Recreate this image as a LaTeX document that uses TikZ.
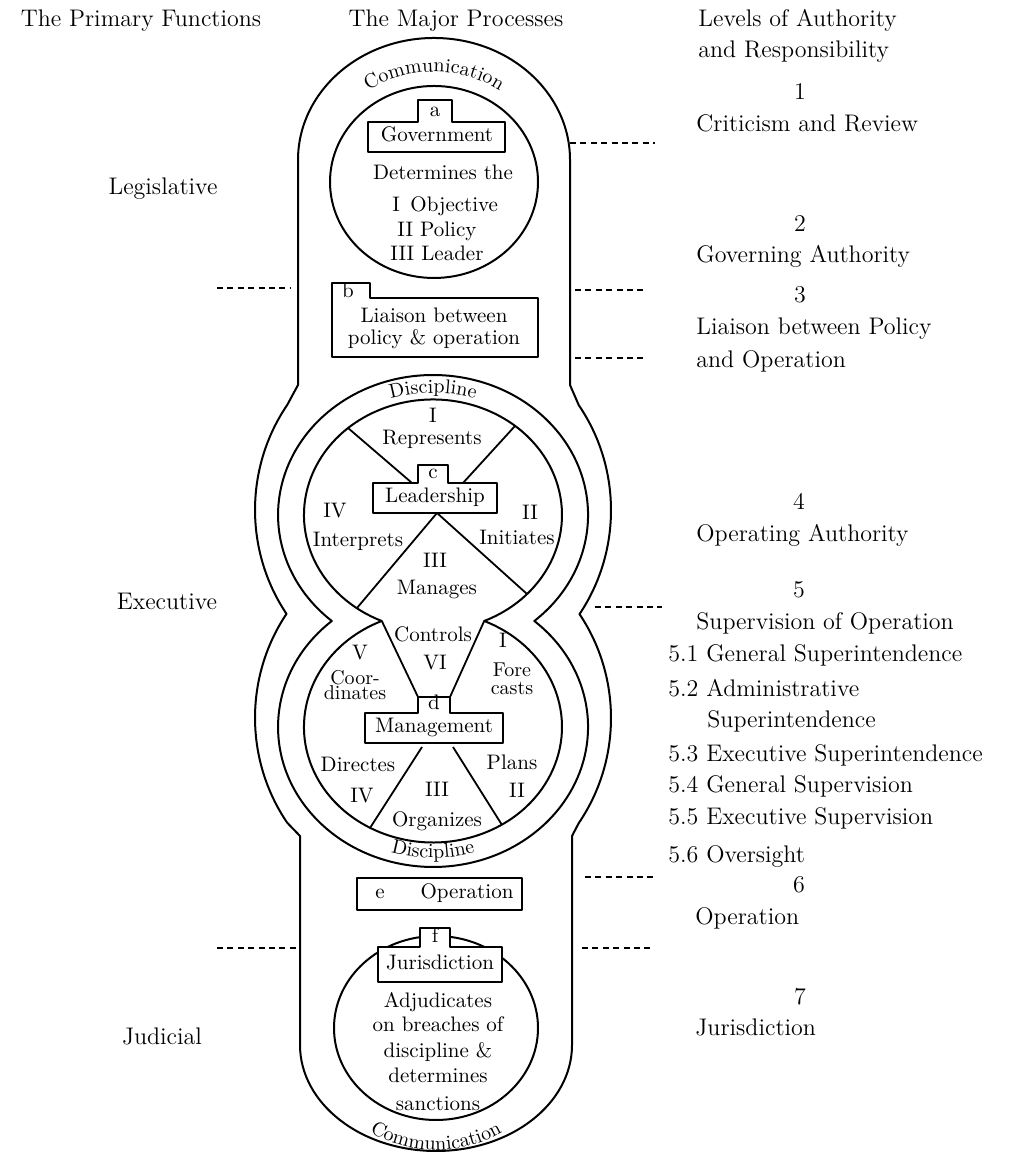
\documentclass[tikz,border=0pt]{standalone}
\usepackage{tikz}
\usetikzlibrary{decorations.text}

\begin{document}
\begin{tikzpicture}[x=0.5pt,y=0.5pt,
  figline/.style={line width=1pt,line join=round},
  spoke/.style={line width=0.9pt},
  levelline/.style={line width=0.8pt,dash pattern=on 3pt off 2.2pt},
  sidetext/.style={font=\fontsize{12}{14}\selectfont,inner sep=0pt,
    text height=1.6ex,text depth=0.45ex},
  intext/.style={font=\fontsize{10.5}{12}\selectfont,inner sep=0pt,
    text height=1.6ex,text depth=0.45ex},
  smalltext/.style={font=\fontsize{10}{11}\selectfont,inner sep=0pt,anchor=base},
  bent/.style={decorate,decoration={text along path,text align=center,
    text={|\fontsize{10}{12}\selectfont|#1}}}]
  \useasboundingbox (0,0) rectangle (1015,1154);
  % centres of the circles
  \coordinate (G) at (434,972);
  \coordinate (L) at (433,639);
  \coordinate (M) at (433,427);
  \coordinate (J) at (436,126);

  % column heads
  \node[sidetext] (primary) at (141,1132) {The Primary Functions};
  \node[sidetext] (major) at (456,1132) {The Major Processes};
  \node[sidetext,anchor=west] (levels) at (698,1132) {Levels of Authority};
  \node[sidetext,anchor=west] (levelsb) at (698,1101) {and Responsibility};

  % outer band
  \draw[figline] (570,994) arc[start angle=0,end angle=180,x radius=136,y radius=122]
    -- (298,769) -- (287.2,749)
    arc[start angle=145,end angle=214.6,x radius=178,y radius=183]
    arc[start angle=145.4,end angle=215,x radius=178,y radius=183]
    -- (300,318) -- (300,109)
    arc[start angle=180,end angle=360,x radius=136,y radius=106]
    -- (572,318) -- (578.8,331)
    arc[start angle=-35,end angle=34.6,x radius=178,y radius=183]
    arc[start angle=-34.6,end angle=35,x radius=178,y radius=183]
    -- (570,769) -- cycle;
  % discipline ring
  \draw[figline] (534.3,533)
    arc[start angle=-49.21,end angle=229.21,x radius=155,y radius=140]
    arc[start angle=130.79,end angle=409.21,x radius=155,y radius=140] -- cycle;
  \draw[figline] (484.2,533)
    arc[start angle=-66.6,end angle=246.6,x radius=129,y radius=115.5]
    arc[start angle=113.4,end angle=426.6,x radius=129,y radius=115.5] -- cycle;
  % government and jurisdiction circles
  \draw[figline] (G) ellipse[x radius=104,y radius=96];
  \draw[figline] (J) ellipse[x radius=102,y radius=92];

  % curved words
  \path[bent=Communication] (350.6,1049.8)
    arc[start angle=135,end angle=45,x radius=118,y radius=110];
  \path[bent=Discipline] (373.8,749.6)
    arc[start angle=115,end angle=65,x radius=140,y radius=122];
  \path[bent=Discipline] (372.6,308.3)
    arc[start angle=245,end angle=295,x radius=143,y radius=131];
  \path[bent=Communication] (347.6,38.0)
    arc[start angle=225,end angle=315,x radius=125,y radius=116];

  % spokes of leadership
  \draw[spoke] (348,726) -- (412,671);
  \draw[spoke] (515,728) -- (463,671);
  \draw[spoke] (437,641) -- (357,546);
  \draw[spoke] (437,641) -- (527,560);
  % spokes of management
  \draw[spoke] (381.8,533) -- (418,457);
  \draw[spoke] (484.2,533) -- (450,457);
  \draw[spoke] (422,407) -- (370,326);
  \draw[spoke] (453,407) -- (502,329);

  % boxes
  \draw[figline,fill=white] (368,1002) -- (505,1002) -- (505,1032) -- (452,1032)
    -- (452,1054) -- (418,1054) -- (418,1032) -- (368,1032) -- cycle;
  \draw[figline,fill=white] (332,797) -- (538,797) -- (538,856) -- (370,856)
    -- (370,871) -- (332,871) -- cycle;
  \draw[figline,fill=white] (373,641) -- (497,641) -- (497,671) -- (448,671)
    -- (448,689) -- (418,689) -- (418,671) -- (373,671) -- cycle;
  \draw[figline,fill=white] (365,411) -- (503,411) -- (503,441) -- (450,441)
    -- (450,457) -- (418,457) -- (418,441) -- (365,441) -- cycle;
  \draw[figline,fill=white] (357,244) rectangle (522,276);
  \draw[figline,fill=white] (378,172) -- (502,172) -- (502,207) -- (450,207)
    -- (450,226) -- (420,226) -- (420,207) -- (378,207) -- cycle;

  % government
  \node[intext] (taba) at (435,1042) {a};
  \node[intext] (govt) at (437,1017) {Government};
  \node[intext] (determ) at (443,979) {Determines the};
  \node[intext,anchor=west] (objective) at (392,947) {I\enspace Objective};
  \node[intext,anchor=west] (policy) at (397,922) {II Policy};
  \node[intext,anchor=west] (leader) at (390,898) {III Leader};
  % liaison
  \node[intext] (tabb) at (348,861) {b};
  \node[intext] (liaison) at (434,836) {Liaison between};
  \node[intext] (liaisonb) at (434,814) {policy \& operation};
  % leadership
  \node[intext] (tabc) at (433,680) {c};
  \node[intext] (lead) at (435,656) {Leadership};
  \node[intext] (repnum) at (433,736) {I};
  \node[intext] (represents) at (432,714) {Represents};
  \node[intext] (intnum) at (335,641) {IV};
  \node[intext] (interprets) at (358,612) {Interprets};
  \node[intext] (ininum) at (530,639) {II};
  \node[intext] (initiates) at (517,614) {Initiates};
  \node[intext] (mannum) at (435,591) {III};
  \node[intext] (manages) at (437,564) {Manages};
  % management
  \node[intext] (tabd) at (434,449) {d};
  \node[intext] (mgmt) at (434,426) {Management};
  \node[intext] (controls) at (433,517) {Controls};
  \node[intext] (connum) at (435,489) {VI};
  \node[intext] (coonum) at (360,499) {V};
  \node[smalltext] (coor) at (355,469) {Coor-};
  \node[smalltext] (dinates) at (355,454) {dinates};
  \node[intext] (forenum) at (503,511) {I};
  \node[smalltext] (fore) at (512,477) {Fore};
  \node[smalltext] (casts) at (512,459) {casts};
  \node[intext] (directes) at (358,387) {Directes};
  \node[intext] (dirnum) at (362,356) {IV};
  \node[intext] (orgnum) at (437,362) {III};
  \node[intext] (organizes) at (437,332) {Organizes};
  \node[intext] (plans) at (512,389) {Plans};
  \node[intext] (plannum) at (517,361) {II};
  % operation
  \node[intext] (tabe) at (380,260) {e};
  \node[intext] (operation) at (467,260) {Operation};
  % jurisdiction
  \node[intext] (tabf) at (435,216) {f};
  \node[intext] (juris) at (440,189) {Jurisdiction};
  \node[intext] (adjud) at (438,151) {Adjudicates};
  \node[intext] (breaches) at (438,127) {on breaches of};
  \node[intext] (discip) at (438,101) {discipline \&};
  \node[intext] (determs) at (438,76) {determines};
  \node[intext] (sanctions) at (438,48) {sanctions};

  % primary functions
  \node[sidetext] (legis) at (163,964) {Legislative};
  \node[sidetext] (exec) at (167,549) {Executive};
  \node[sidetext] (judic) at (162,114) {Judicial};

  % levels of authority
  \node[sidetext] (lvlone) at (800,1059) {1};
  \node[sidetext,anchor=west] (criticism) at (696,1027) {Criticism and Review};
  \node[sidetext] (lvltwo) at (800,927) {2};
  \node[sidetext,anchor=west] (governing) at (696,896) {Governing Authority};
  \node[sidetext] (lvlthree) at (800,856) {3};
  \node[sidetext,anchor=west] (liaisonl) at (696,824) {Liaison between Policy};
  \node[sidetext,anchor=west] (liaisonlb) at (696,791) {and Operation};
  \node[sidetext] (lvlfour) at (799,649) {4};
  \node[sidetext,anchor=west] (operating) at (696,617) {Operating Authority};
  \node[sidetext] (lvlfive) at (799,561) {5};
  \node[sidetext,anchor=west] (supervision) at (696,529) {Supervision of Operation};
  \node[sidetext,anchor=west] (sub1) at (668,497) {5.1 General Superintendence};
  \node[sidetext,anchor=west] (sub2) at (668,462) {5.2 Administrative};
  \node[sidetext,anchor=west] (sub2b) at (707,431) {Superintendence};
  \node[sidetext,anchor=west] (sub3) at (668,397) {5.3 Executive Superintendence};
  \node[sidetext,anchor=west] (sub4) at (668,366) {5.4 General Supervision};
  \node[sidetext,anchor=west] (sub5) at (668,334) {5.5 Executive Supervision};
  \node[sidetext,anchor=west] (sub6) at (668,296) {5.6 Oversight};
  \node[sidetext] (lvlsix) at (799,266) {6};
  \node[sidetext,anchor=west] (operationl) at (695,234) {Operation};
  \node[sidetext] (lvlseven) at (800,154) {7};
  \node[sidetext,anchor=west] (jurisl) at (695,123) {Jurisdiction};

  % level marks
  \draw[levelline] (570,1011) -- (655,1011);
  \draw[levelline] (575,864) -- (645,864);
  \draw[levelline] (575,796) -- (645,796);
  \draw[levelline] (595,547) -- (662,547);
  \draw[levelline] (585,277) -- (653,277);
  \draw[levelline] (582,206) -- (653,206);
  \draw[levelline] (217,866) -- (290,866);
  \draw[levelline] (217,206) -- (297,206);
\end{tikzpicture}
\end{document}
